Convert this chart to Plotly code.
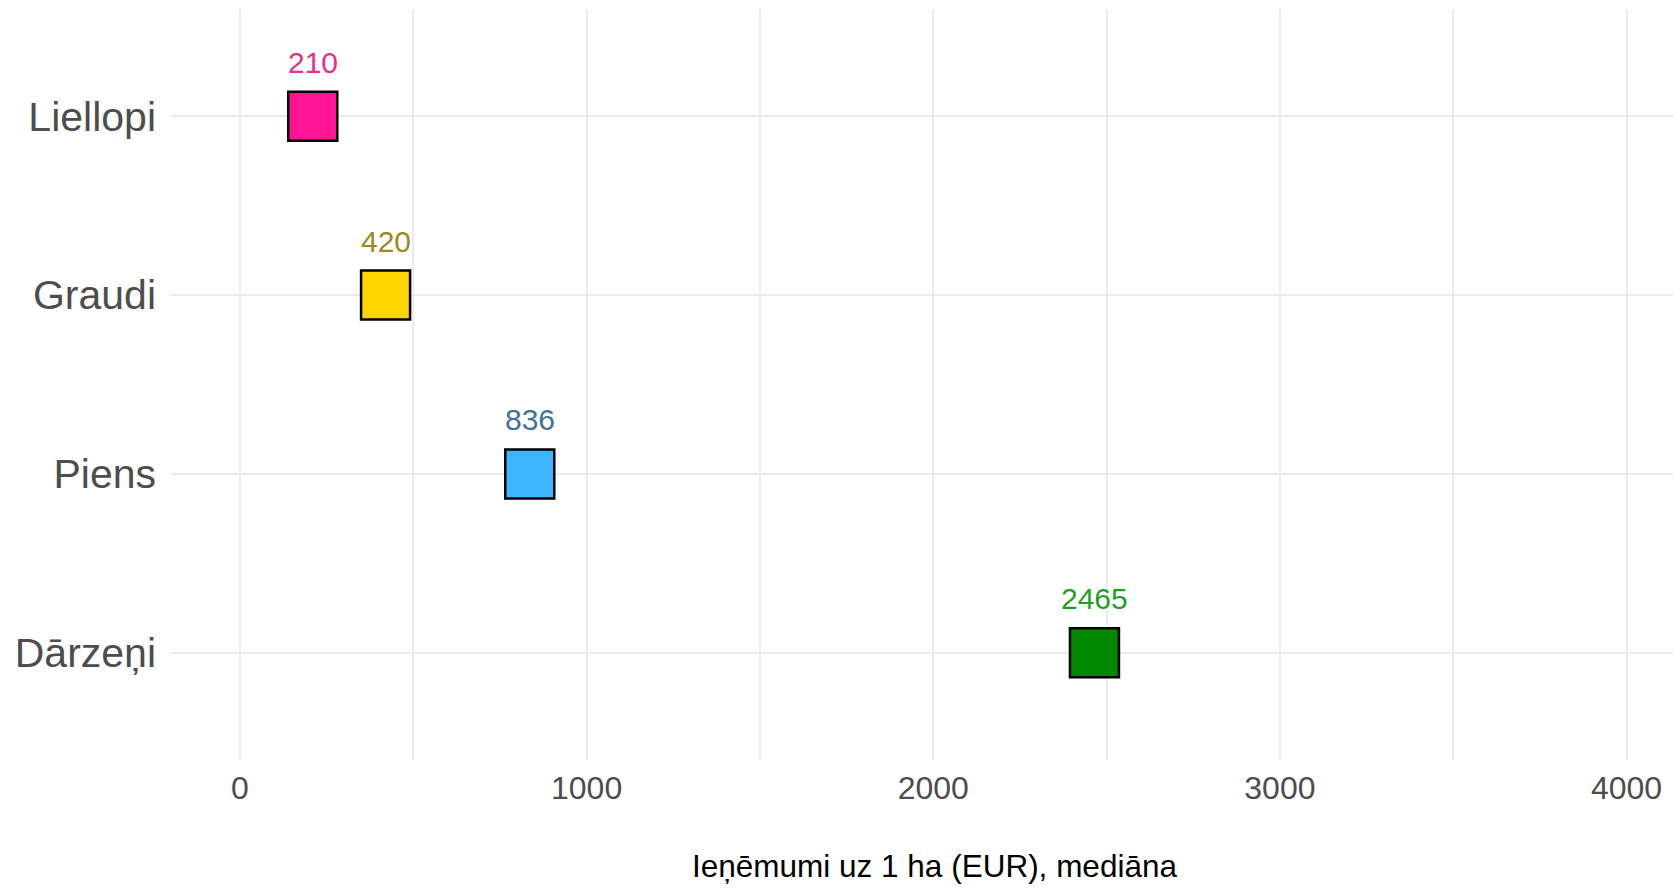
import plotly.graph_objects as go

categories = ["Liellopi", "Graudi", "Piens", "Dārzeņi"]
values = [210, 420, 836, 2465]
fill_colors = ["#FF1493", "#FFD700", "#3DB5FF", "#008800"]
label_colors = ["#E8308A", "#9C8A1F", "#3F7199", "#1FA01F"]
x_ticks = [0, 1000, 2000, 3000, 4000]
x_title = "Ieņēmumi uz 1 ha (EUR), mediāna"

FONT = "Liberation Sans, Arial, sans-serif"

fig = go.Figure()
fig.add_trace(go.Scatter(
    x=values, y=categories, mode="markers",
    marker=dict(symbol="square", size=49, color=fill_colors,
                line=dict(color="black", width=2.5)),
    showlegend=False, hoverinfo="skip",
))

for c, v, lc in zip(categories, values, label_colors):
    fig.add_annotation(x=v, y=c, text=str(v), showarrow=False, yshift=54,
                       font=dict(family=FONT, size=30, color=lc))

# x-axis title (placed as paper annotation to match original centring)
fig.add_annotation(xref="paper", yref="paper", x=0.508, y=-0.141,
                   xanchor="center", yanchor="middle", showarrow=False,
                   text=x_title, font=dict(family=FONT, size=31.5, color="#000000"))

fig.update_layout(
    width=1673, height=890,
    margin=dict(l=171, r=0, t=9, b=130),
    paper_bgcolor="white", plot_bgcolor="white",
    font=dict(family=FONT, color="#4D4D4D"),
)
fig.update_xaxes(
    range=[-199, 4134], tickvals=x_ticks, ticktext=[str(t) for t in x_ticks],
    showgrid=True, gridcolor="#EBEBEB", gridwidth=2,
    minor=dict(dtick=500, tick0=0, showgrid=True, gridcolor="#EBEBEB", gridwidth=1.6),
    zeroline=False, showline=False, automargin=False,
    ticks="", ticklabelstandoff=6,
    tickfont=dict(family=FONT, size=32, color="#4D4D4D"),
)
fig.update_yaxes(
    type="category", categoryorder="array", categoryarray=categories[::-1],
    range=[-0.6, 3.6],
    showgrid=True, gridcolor="#EBEBEB", gridwidth=2,
    zeroline=False, showline=False, automargin=False,
    ticks="", ticklabelstandoff=14,
    tickfont=dict(family=FONT, size=41, color="#4D4D4D"),
)

fig.write_html("out.html", config={"displayModeBar": False},
               post_script="document.body.style.margin='0';document.body.style.padding='0';")
